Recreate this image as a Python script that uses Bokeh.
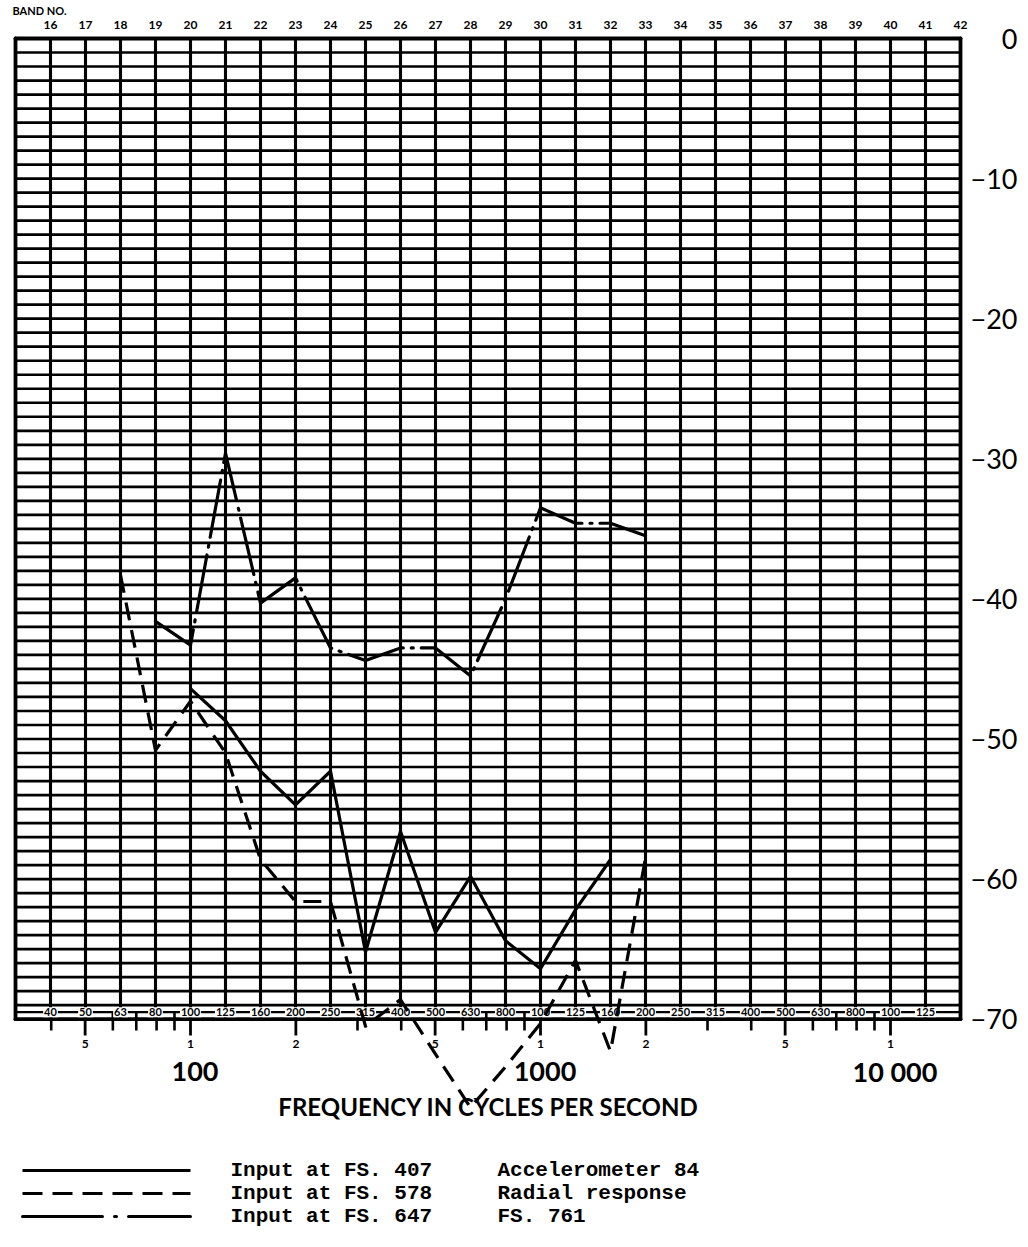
import numpy as np
from bokeh.plotting import figure
from bokeh.models import Range1d
from bokeh.core.properties import value
from bokeh.embed import file_html
from bokeh.resources import INLINE

# ---------------- data ----------------
band_numbers = list(range(16, 43))
band_labels = [str(b) for b in band_numbers]

centre_freq_bands = list(range(16, 42))
centre_freq_labels = ["40", "50", "63", "80", "100", "125", "160", "200", "250", "315",
                      "400", "500", "630", "800", "100", "125", "160", "200", "250", "315",
                      "400", "500", "630", "800", "100", "125"]

db_ticks = [0, -10, -20, -30, -40, -50, -60, -70]
db_tick_labels = ["0", "\u221210", "\u221220", "\u221230", "\u221240", "\u221250", "\u221260", "\u221270"]

freq_minor_ticks = [40, 60, 70, 80, 90, 300, 400, 600, 700, 800, 900,
                    3000, 4000, 6000, 7000, 8000, 9000]
freq_major_ticks = [50, 100, 200, 500, 1000, 2000, 5000, 10000]
freq_major_labels = ["5", "1", "2", "5", "1", "2", "5", "1"]
decade_ticks = [100, 1000, 10000]
decade_labels = ["100", "1000", "10 000"]

fs407_band = list(range(20, 33))
fs407_db = [-46.4, -48.7, -52.3, -54.7, -52.3, -65.2, -56.6, -63.8, -59.8, -64.4, -66.4, -62.2, -58.6]

fs578_band = list(range(18, 34))
fs578_db = [-38.3, -50.8, -47.3, -51.0, -58.6, -61.6, -61.6, -70.5, -68.6, -72.5, -76.3,
            -73.4, -70.3, -65.8, -72.3, -58.5]

fs647_band = list(range(19, 34))
fs647_db = [-41.6, -43.3, -29.6, -40.3, -38.5, -43.5, -44.4, -43.5, -43.5, -45.5, -40.0,
            -33.5, -34.6, -34.6, -35.5]

legend_labels = ["Input at FS. 407", "Input at FS. 578", "Input at FS. 647"]
caption_lines = ["Accelerometer 84", "Radial response", "FS. 761"]


def band_freq(b):
    return 10 ** (np.asarray(b, dtype=float) / 10.0)


# ---------------- layout (page pixels -> data) ----------------
W, H = 1026, 1244
OX, OY = 0, 0
BAND_PX = 35.0
BAND15_PX = 15.0
DB_PX = 14.01
ZERO_PX = 38.0


def fx(px):
    return float(band_freq(15 + (px - BAND15_PX) / BAND_PX))


def dy(py):
    return -(py - ZERO_PX) / DB_PX


p = figure(width=W, height=H,
           x_range=Range1d(fx(OX), fx(OX + W)),
           y_range=Range1d(dy(OY + H), dy(OY)),
           x_axis_type="log",
           x_axis_location=None, y_axis_location=None,
           min_border=0, outline_line_color=None,
           toolbar_location=None, output_backend="svg",
           background_fill_color="white", border_fill_color="white")
p.grid.visible = False

BOLD = value("Lato")
LATO = value("Lato")
MONO = value("Liberation Mono")

f15 = float(band_freq(15))
f42 = float(band_freq(42))

# horizontal rulings, 1 dB apart
hy = list(range(-1, -70, -1))
p.segment(x0=[f15] * len(hy), y0=hy, x1=[f42] * len(hy), y1=hy,
          line_color="black", line_width=2.7)
# vertical rulings at each band
vx = list(band_freq(list(range(16, 42))))
p.segment(x0=vx, y0=[0] * len(vx), x1=vx, y1=[-70] * len(vx),
          line_color="black", line_width=3.1)
# frame
p.segment(x0=[f15, f15, f15, f42], y0=[0, -70, 0, 0],
          x1=[f42, f42, f15, f42], y1=[0, -70, -70, -70],
          line_color="black", line_width=3.8, line_cap="round")

# band centre-frequency row
row_y = -69.5
p.segment(x0=[f15], y0=[row_y], x1=[f42], y1=[row_y], line_color="black", line_width=2.2)

# log ticks under the frame
minor_bottom = dy(1030)
major_bottom = dy(1035)
mx = list(freq_minor_ticks)
p.segment(x0=mx, y0=[row_y] * len(mx), x1=mx, y1=[minor_bottom] * len(mx),
          line_color="black", line_width=2.6)
Mx = list(freq_major_ticks)
p.segment(x0=Mx, y0=[row_y] * len(Mx), x1=Mx, y1=[major_bottom] * len(Mx),
          line_color="black", line_width=2.8)

p.text(x=list(band_freq(centre_freq_bands)), y=[row_y] * len(centre_freq_bands),
       text=centre_freq_labels, text_align="center", text_baseline="middle",
       text_font=BOLD, text_font_style="bold", text_font_size="11px",
       text_color="black", background_fill_color="white", padding=1)

# ---------------- data series ----------------
p.line(list(band_freq(fs407_band)), fs407_db, line_color="black", line_width=3.2,
       line_join="round")
p.line(list(band_freq(fs578_band)), fs578_db, line_color="black", line_width=3.2,
       line_dash="18 10", line_join="round")
p.line(list(band_freq(fs647_band)), fs647_db, line_color="black", line_width=3.2,
       line_dash="58 8 2 8", line_cap="round", line_join="round")

# ---------------- texts ----------------
p.text(x=[fx(12)], y=[dy(10)], text=["BAND NO."], text_align="left", text_baseline="middle",
       text_font=BOLD, text_font_style="bold", text_font_size="11px", text_color="black")

p.text(x=list(band_freq(band_numbers)), y=[dy(24)] * len(band_numbers), text=band_labels,
       text_align="center", text_baseline="middle",
       text_font=BOLD, text_font_style="bold", text_font_size="12px", text_color="black")

p.text(x=[fx(1017)] * len(db_ticks), y=db_ticks, text=db_tick_labels,
       text_align="right", text_baseline="middle",
       text_font=LATO, text_font_size="27px", text_color="black")

p.text(x=freq_major_ticks, y=[dy(1043)] * len(freq_major_ticks), text=freq_major_labels,
       text_align="center", text_baseline="middle",
       text_font=BOLD, text_font_style="bold", text_font_size="12px", text_color="black")

p.text(x=[float(v) * 1.03 for v in decade_ticks], y=[dy(1071)] * len(decade_ticks),
       text=decade_labels, text_align="center", text_baseline="middle",
       text_font=BOLD, text_font_style="bold", text_font_size="27px", text_color="black")

p.text(x=[fx(488)], y=[dy(1106)], text=["FREQUENCY IN CYCLES PER SECOND"],
       text_align="center", text_baseline="middle",
       text_font=LATO, text_font_style="bold", text_font_size="24px", text_color="black")

# ---------------- legend ----------------
leg_y = [dy(1170), dy(1193), dy(1216)]
lx0, lx1 = fx(22), fx(190)
p.line([lx0, lx1], [leg_y[0]] * 2, line_color="black", line_width=3.0)
p.line([lx0, lx1], [leg_y[1]] * 2, line_color="black", line_width=3.0, line_dash="20 10")
p.line([lx0, lx1], [leg_y[2]] * 2, line_color="black", line_width=3.0,
       line_dash="80 12 2 12", line_cap="round")

p.text(x=[fx(230)] * 3, y=leg_y, text=legend_labels, text_align="left", text_baseline="middle",
       text_font=MONO, text_font_style="bold", text_font_size="21px", text_color="black")
p.text(x=[fx(497)] * 3, y=leg_y, text=caption_lines, text_align="left", text_baseline="middle",
       text_font=MONO, text_font_style="bold", text_font_size="21px", text_color="black")

open("out.html", "w").write(file_html(p, INLINE))
